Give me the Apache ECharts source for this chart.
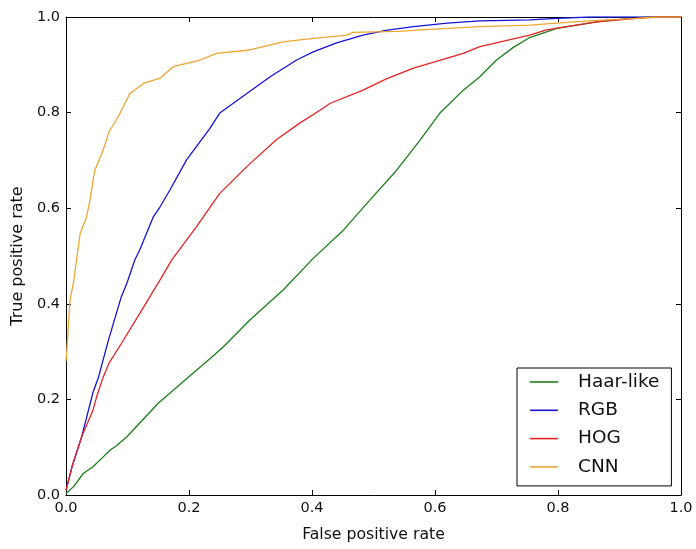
<!DOCTYPE html>
<html>
<head>
<meta charset="utf-8">
<script src="https://cdn.jsdelivr.net/npm/echarts@6/dist/echarts.min.js"></script>
<style>html,body{margin:0;padding:0;background:#fff}#c{width:696px;height:549px}</style>
</head>
<body>
<div id="c"></div>
<script>
const seriesNames = ['Haar-like', 'RGB', 'HOG', 'CNN'];
const xTicks = [0, 0.2, 0.4, 0.6, 0.8, 1.0];

const haarX = [0, 0.012, 0.028, 0.044, 0.055, 0.072, 0.082, 0.099, 0.150, 0.196, 0.234, 0.256, 0.299, 0.353, 0.402, 0.451, 0.494, 0.538, 0.576, 0.608, 0.646, 0.673, 0.700, 0.728, 0.754, 0.798, 0.863, 0.917, 0.95, 1.0];
const haarY = [0.003, 0.017, 0.045, 0.059, 0.073, 0.094, 0.103, 0.122, 0.192, 0.243, 0.285, 0.310, 0.366, 0.429, 0.495, 0.554, 0.617, 0.680, 0.743, 0.799, 0.847, 0.875, 0.910, 0.937, 0.957, 0.976, 0.990, 0.997, 1.0, 1.0];

const rgbX = [0, 0.01, 0.0255, 0.044, 0.053, 0.069, 0.090, 0.099, 0.112, 0.120, 0.142, 0.153, 0.169, 0.196, 0.234, 0.250, 0.294, 0.332, 0.375, 0.402, 0.44, 0.483, 0.52, 0.565, 0.62, 0.673, 0.754, 0.798, 0.85, 1.0];
const rgbY = [0.01, 0.06, 0.122, 0.215, 0.247, 0.324, 0.415, 0.443, 0.492, 0.513, 0.582, 0.603, 0.638, 0.701, 0.767, 0.799, 0.840, 0.875, 0.910, 0.927, 0.946, 0.962, 0.972, 0.980, 0.987, 0.992, 0.994, 0.997, 1.0, 1.0];

const hogX = [0, 0.01, 0.0255, 0.044, 0.050, 0.060, 0.070, 0.090, 0.120, 0.153, 0.172, 0.212, 0.250, 0.294, 0.342, 0.380, 0.413, 0.429, 0.483, 0.52, 0.565, 0.646, 0.673, 0.754, 0.781, 0.863, 0.928, 0.96, 1.0];
const hogY = [0.01, 0.06, 0.122, 0.178, 0.206, 0.245, 0.276, 0.317, 0.380, 0.450, 0.492, 0.561, 0.631, 0.687, 0.743, 0.778, 0.805, 0.819, 0.847, 0.870, 0.893, 0.924, 0.938, 0.962, 0.973, 0.990, 0.997, 1.0, 1.0];

const cnnX = [0, 0.001, 0.0065, 0.012, 0.023, 0.033, 0.039, 0.044, 0.047, 0.06, 0.07, 0.082, 0.088, 0.104, 0.126, 0.153, 0.174, 0.218, 0.245, 0.299, 0.353, 0.38, 0.456, 0.467, 0.54, 0.592, 0.673, 0.754, 0.798, 0.863, 0.928, 0.96, 1.0];
const cnnY = [0.28, 0.296, 0.408, 0.443, 0.547, 0.58, 0.617, 0.659, 0.68, 0.72, 0.76, 0.785, 0.799, 0.840, 0.861, 0.872, 0.896, 0.910, 0.924, 0.931, 0.948, 0.952, 0.962, 0.968, 0.970, 0.974, 0.980, 0.983, 0.987, 0.993, 0.997, 1.0, 1.0];

const colors = ['#1a7f1a', '#1414d2', '#e42424', '#eea631'];
const xs = [haarX, rgbX, hogX, cnnX];
const ys = [haarY, rgbY, hogY, cnnY];

const FONT = 'DejaVu Sans';
const chart = echarts.init(document.getElementById('c'), null, {renderer: 'canvas'});

function axisCommon(show) {
  return {
    type: 'value', min: 0, max: 1, interval: 0.2,
    axisLine: {show: true, onZero: false, lineStyle: {color: '#000', width: 1}},
    axisTick: {show: true, inside: true, length: 5, lineStyle: {color: '#000'}},
    splitLine: {show: false},
    axisLabel: {show: show, color: '#111', fontSize: 14.5, fontFamily: FONT, margin: 6,
      formatter: v => v.toFixed(1)}
  };
}

const option = {
  backgroundColor: '#fff',
  animation: false,
  grid: {left: 66, top: 17, right: 15, bottom: 54},
  xAxis: [
    Object.assign(axisCommon(true), {position: 'bottom', name: 'False positive rate', nameLocation: 'middle', nameGap: 32,
      nameTextStyle: {fontSize: 15.7, fontFamily: FONT, color: '#111'}}),
    Object.assign(axisCommon(false), {position: 'top'})
  ],
  yAxis: [
    Object.assign(axisCommon(true), {position: 'left', name: 'True positive rate', nameLocation: 'middle', nameGap: 37,
      nameTextStyle: {fontSize: 16, fontFamily: FONT, color: '#111'}}),
    Object.assign(axisCommon(false), {position: 'right'})
  ],
  legend: {
    orient: 'vertical', left: 517, top: 368,
    data: seriesNames,
    icon: 'rect', itemWidth: 28, itemHeight: 1.6, itemGap: 8.3,
    padding: [4, 12, 9, 13],
    borderColor: '#000', borderWidth: 1, backgroundColor: '#fff',
    textStyle: {fontSize: 18.5, fontFamily: FONT, color: '#111', lineHeight: 20, padding: [0, 0, 0, 15]}
  },
  series: seriesNames.map((n, i) => ({
    name: n, type: 'line', showSymbol: false, symbol: 'none',
    xAxisIndex: 0, yAxisIndex: 0,
    lineStyle: {color: colors[i], width: 1.3},
    itemStyle: {color: colors[i]},
    data: xs[i].map((x, j) => [x, ys[i][j]])
  }))
};
chart.setOption(option);
</script>
</body>
</html>
